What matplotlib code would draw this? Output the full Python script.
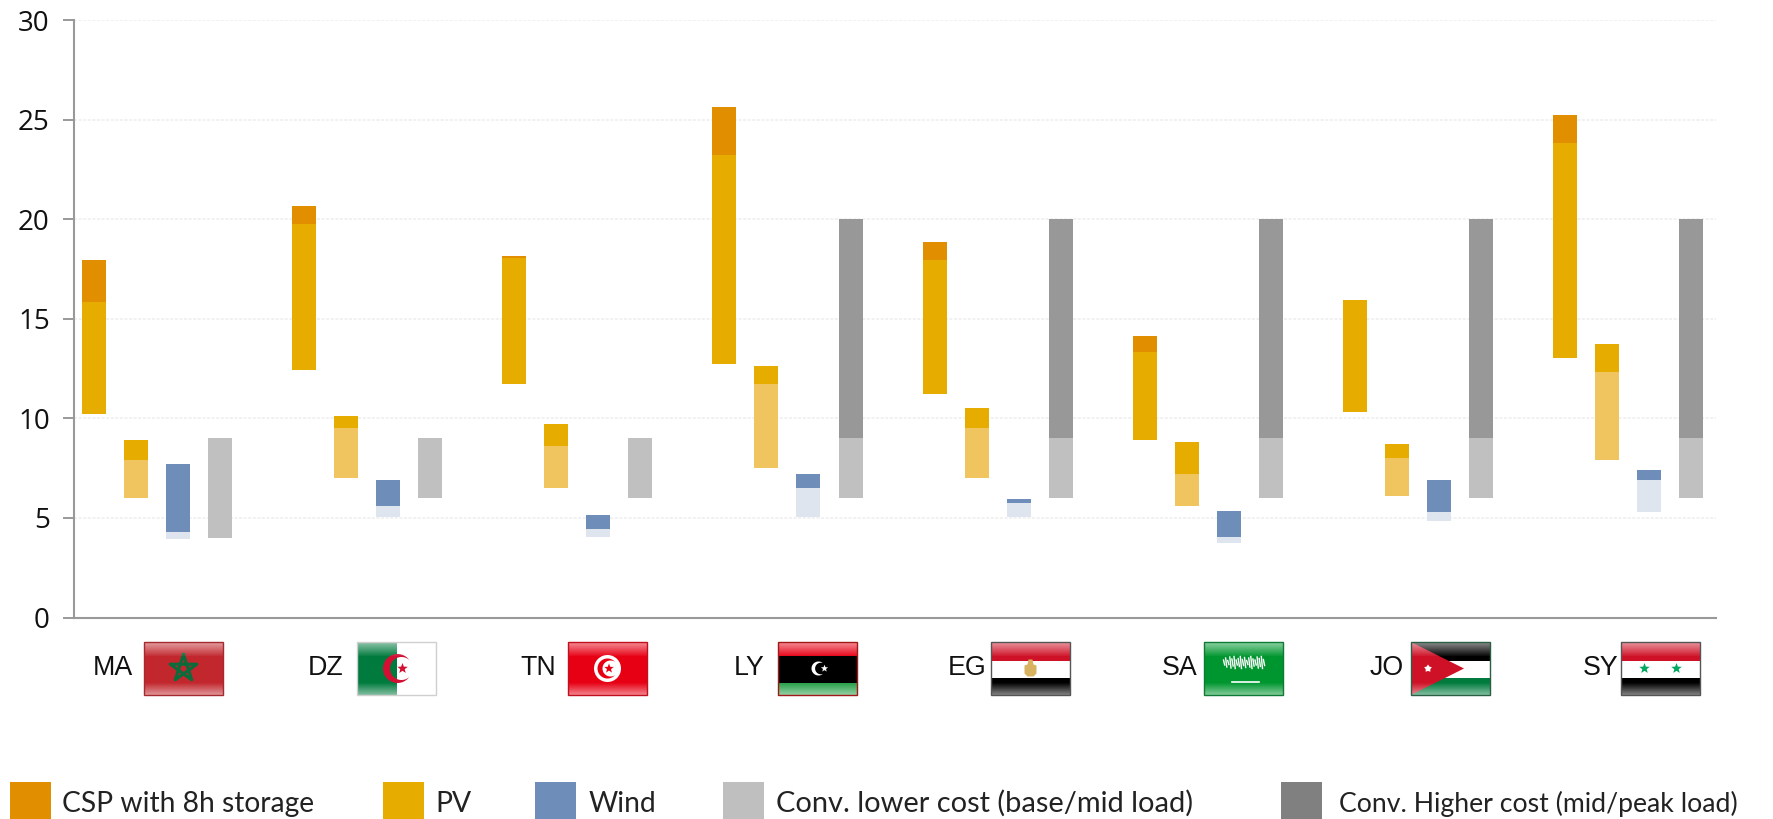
import matplotlib
matplotlib.use('Agg')
import matplotlib.pyplot as plt
import numpy as np
from matplotlib.patches import Circle, Polygon, Rectangle

# Cost ranges per country (ct/kWh)
countries = ['MA', 'DZ', 'TN', 'LY', 'EG', 'SA', 'JO', 'SY']

# CSP column: PV coloured lower part, CSP coloured upper part
csp_bottom = [10.22, 12.43, 11.73, 12.73, 11.23, 8.92, 10.32, 13.03]
csp_mid = [15.85, 19.76, 18.06, 23.23, 17.96, 13.34, 15.95, 23.83]
csp_top = [17.96, 20.67, 18.16, 25.64, 18.86, 14.14, 15.95, 25.24]

pv_bottom = [6.0, 7.01, 6.5, 7.51, 7.01, 5.6, 6.1, 7.91]
pv_mid = [7.91, 9.52, 8.61, 11.73, 9.52, 7.21, 8.01, 12.33]
pv_top = [8.92, 10.12, 9.72, 12.63, 10.52, 8.81, 8.71, 13.74]

wind_bottom = [3.94, 5.05, 4.04, 5.05, 5.05, 3.74, 4.85, 5.3]
wind_mid = [4.29, 5.6, 4.44, 6.5, 5.75, 4.04, 5.3, 6.91]
wind_top = [7.71, 6.91, 5.15, 7.21, 5.95, 5.35, 6.91, 7.41]

conv_bottom = [4, 6, 6, 6, 6, 6, 6, 6]
conv_mid = [9, 9, 9, 9, 9, 9, 9, 9]
conv_top = [9, 9, 9, 20, 20, 20, 20, 20]

yticks = [0, 5, 10, 15, 20, 25, 30]

legend_labels = ['CSP with 8h storage', 'PV', 'Wind',
                 'Conv. lower cost (base/mid load)', 'Conv. Higher cost (mid/peak load)']
legend_colors = ['#E18F00', '#E6AC00', '#6F8DB9', '#BFBFBF', '#808080']

ORANGE = '#E18F00'
PV = '#E6AC00'
PV_LIGHT = '#F0C560'
WIND = '#6F8DB9'
WIND_LIGHT = '#DEE5EF'
CONV_LOW = '#C0C0C0'
CONV_HIGH = '#989898'

W, H = 1773, 819
fig = plt.figure(figsize=(W / 100, H / 100), dpi=100, facecolor='white')
ax = fig.add_axes([74 / W, (H - 617.5) / H, (1716 - 74) / W, (617.5 - 20.3) / H])

# one group is 210 px wide, columns sit 42 px apart
x = np.arange(len(countries), dtype=float)
step = 0.2
width = 0.1142


def draw_range(pos, low, high, color):
    low = np.array(low, dtype=float)
    high = np.array(high, dtype=float)
    ax.bar(pos, high - low, width, bottom=low, color=color, linewidth=0, zorder=3)


draw_range(x, csp_bottom, csp_mid, PV)
draw_range(x, csp_mid, csp_top, ORANGE)
draw_range(x + step, pv_bottom, pv_mid, PV_LIGHT)
draw_range(x + step, pv_mid, pv_top, PV)
draw_range(x + 2 * step, wind_bottom, wind_mid, WIND_LIGHT)
draw_range(x + 2 * step, wind_mid, wind_top, WIND)
draw_range(x + 3 * step, conv_bottom, conv_mid, CONV_LOW)
draw_range(x + 3 * step, conv_mid, conv_top, CONV_HIGH)

ax.set_xlim(-20 / 210.14, (1716 - 94) / 210.14)
ax.set_ylim(0, 30)
ax.set_xticks([])
ax.set_yticks(yticks)
ax.set_yticklabels([])
ax.tick_params(axis='y', length=8, width=1.4, color='#999999')
ax.grid(axis='y', color='#EEEEEE', linewidth=1.1, linestyle=(0, (2, 1)), zorder=0)
ax.set_axisbelow(True)
for side in ['top', 'right']:
    ax.spines[side].set_visible(False)
for side in ['left', 'bottom']:
    ax.spines[side].set_color('#999999')
    ax.spines[side].set_linewidth(1.5)

# pixel-based layer for the flags, country codes and legend
over = fig.add_axes([0, 0, 1, 1], facecolor='none')
over.set_axis_off()

# tick numbers sit a touch below their ticks
tick_trans = ax.get_yaxis_transform()
for t in yticks:
    ax.annotate(str(t), xy=(0, t), xycoords=tick_trans, xytext=(-17.5, -2.5),
                textcoords='offset points', family='Open Sans', fontsize=20,
                ha='right', va='center', color='#111111', annotation_clip=False)

FLAG_W, FLAG_H = 79, 53
FLAG_TOP = 642
flag_left = [144, 357, 568, 778, 991, 1204, 1411, 1621]
label_right = [133, 344, 556, 765, 986, 1197, 1404, 1618]

GREEN = '#007A3D'
RED = '#CE1126'

gloss = np.ones((FLAG_H, 1, 4))
gloss[:, 0, 3] = 0
gloss[:14, 0, 3] = np.linspace(0.55, 0.06, 14)
gloss[-12:, 0, 3] = np.linspace(0.04, 0.5, 12)


def star(cx, cy, r, inner=0.42):
    a = np.deg2rad(np.arange(10) * 36 - 90)
    rad = np.where(np.arange(10) % 2 == 0, r, r * inner)
    return np.column_stack([cx + rad * np.cos(a), cy + rad * np.sin(a)])


def crescent(cx, cy, r_out, r_in, shift):
    # outer arc round the left side, inner arc back again
    limit = np.arccos((r_out**2 + shift**2 - r_in**2) / (2 * r_out * shift))
    t1 = np.linspace(limit, 2 * np.pi - limit, 60)
    outer = np.column_stack([cx + r_out * np.cos(t1), cy + r_out * np.sin(t1)])
    lim2 = np.arctan2(r_out * np.sin(limit), r_out * np.cos(limit) - shift)
    t2 = np.linspace(2 * np.pi - lim2, lim2, 60)
    inner = np.column_stack([cx + shift + r_in * np.cos(t2), cy + r_in * np.sin(t2)])
    return np.vstack([outer, inner])


def band(left, y0, y1, color, x0=0, x1=FLAG_W):
    over.add_patch(Rectangle((left + x0, y0), x1 - x0, y1 - y0, color=color, lw=0, zorder=2))


def tricolor(left, colors):
    tops = [0, 18.5, 36, FLAG_H]
    for i, c in enumerate(colors):
        band(left, FLAG_TOP + tops[i], FLAG_TOP + tops[i + 1], c)


def draw_flag(code, left):
    cx = left + FLAG_W / 2
    cy = FLAG_TOP + FLAG_H / 2
    edge = '#A52A30'
    if code == 'MA':
        band(left, FLAG_TOP, FLAG_TOP + FLAG_H, '#C1272D')
        pts = star(cx, cy, 14, inner=1)[[0, 4, 8, 2, 6, 0]]
        over.plot(pts[:, 0], pts[:, 1], color='#0B6B3A', lw=2.2, zorder=3)
    elif code == 'DZ':
        band(left, FLAG_TOP, FLAG_TOP + FLAG_H, '#FFFFFF')
        band(left, FLAG_TOP, FLAG_TOP + FLAG_H, GREEN, 0, FLAG_W / 2)
        over.add_patch(Polygon(crescent(cx + 1, cy, 14.5, 11.5, 4), color='#D21034', lw=0, zorder=3))
        over.add_patch(Polygon(star(cx + 6, cy, 5.5), color='#D21034', lw=0, zorder=3))
        edge = '#CFCFCF'
    elif code == 'TN':
        band(left, FLAG_TOP, FLAG_TOP + FLAG_H, '#E70013')
        over.add_patch(Circle((cx, cy), 13.5, color='white', lw=0, zorder=3))
        over.add_patch(Polygon(crescent(cx, cy, 10, 8, 3), color='#E70013', lw=0, zorder=3))
        over.add_patch(Polygon(star(cx + 1.5, cy, 5), color='#E70013', lw=0, zorder=3))
        edge = '#C0101F'
    elif code == 'LY':
        band(left, FLAG_TOP, FLAG_TOP + 14, '#E70013')
        band(left, FLAG_TOP + 14, FLAG_TOP + 41, '#000000')
        band(left, FLAG_TOP + 41, FLAG_TOP + FLAG_H, '#239E46')
        over.add_patch(Polygon(crescent(cx + 1, cy, 7, 5.8, 2.4), color='white', lw=0, zorder=3))
        over.add_patch(Polygon(star(cx + 7, cy, 3.8), color='white', lw=0, zorder=3))
        edge = '#A01818'
    elif code == 'EG':
        tricolor(left, [RED, '#FFFFFF', '#000000'])
        shape = [(-2, -9), (2, -9), (3, -4), (6, -3), (6, 5), (3, 8), (-3, 8), (-6, 5), (-6, -3), (-3, -4)]
        over.add_patch(Polygon([(cx + a, cy + b) for a, b in shape], color='#D9B25F', lw=0, zorder=3))
        edge = '#555555'
    elif code == 'SA':
        band(left, FLAG_TOP, FLAG_TOP + FLAG_H, '#00962F')
        # calligraphy band as short white strokes
        strokes = [5, 9, 4, 11, 7, 12, 5, 8, 12, 6, 10, 4, 9, 12, 7, 5, 11, 8, 12, 6]
        for i, s in enumerate(strokes):
            sx = cx - 20 + i * 2.1
            over.plot([sx, sx + 1.2], [cy - 12 + (12 - s) / 2, cy - 12 + (12 - s) / 2 + s],
                      color='white', lw=1.0, zorder=3)
        over.plot([cx - 12, cx + 15], [cy + 13.5, cy + 13.5], color='white', lw=1.2, zorder=3)
        edge = '#0F7A33'
    elif code == 'JO':
        tricolor(left, ['#000000', '#FFFFFF', GREEN])
        over.add_patch(Polygon([(left, FLAG_TOP), (left + 53, cy), (left, FLAG_TOP + FLAG_H)],
                               color=RED, lw=0, zorder=3))
        over.add_patch(Polygon(star(left + 17, cy, 4, inner=0.6), color='white', lw=0, zorder=3))
        edge = '#2B5F45'
    elif code == 'SY':
        tricolor(left, [RED, '#FFFFFF', '#000000'])
        for dx in (-16, 16):
            over.add_patch(Polygon(star(cx + dx, cy, 5.5), color='#00A860', lw=0, zorder=3))
        edge = '#555555'
    over.imshow(gloss, extent=(left, left + FLAG_W, FLAG_TOP + FLAG_H, FLAG_TOP),
                aspect='auto', zorder=4, interpolation='bilinear')
    over.add_patch(Rectangle((left, FLAG_TOP), FLAG_W, FLAG_H, fill=False, edgecolor=edge, lw=1.0, zorder=5))


for code, left, right in zip(countries, flag_left, label_right):
    draw_flag(code, left)
    over.text(right, FLAG_TOP + 26, code, family='Liberation Sans', fontsize=19.3,
              ha='right', va='center', color='#111111')

# legend along the bottom edge, swatches run off the figure
swatch_left = [10, 383, 535, 723, 1281]
text_left = [62, 435, 589, 776, 1339]
text_size = [20.3, 20.3, 20.3, 20.9, 19.2]
for label, color, sx, tx, fs in zip(legend_labels, legend_colors, swatch_left, text_left, text_size):
    over.add_patch(Rectangle((sx, 782), 41, 50, color=color, lw=0))
    over.text(tx, 812, label, family='Lato', fontweight='regular', fontsize=fs,
              ha='left', va='baseline', color='#222222')

over.set_xlim(0, W)
over.set_ylim(H, 0)

fig.savefig('out.png', dpi=100)
